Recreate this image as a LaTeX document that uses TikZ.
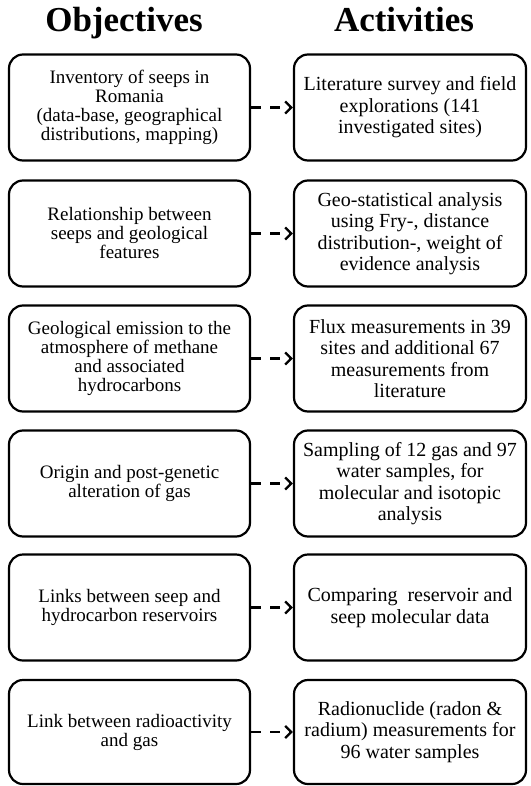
\documentclass[tikz,border=0pt]{standalone}
\usepackage{fontspec}
\setmainfont{Liberation Serif}
\usetikzlibrary{arrows.meta}
\begin{document}
\begin{tikzpicture}[x=1pt,y=-1pt,
  box/.style={draw, line width=2.2pt, rounded corners=14pt, minimum height=106pt,
    align=center, inner sep=0pt},
  lbox/.style={box, minimum width=241pt, font=\fontsize{19}{19}\selectfont},
  rbox/.style={box, minimum width=232pt, font=\fontsize{20}{21.5}\selectfont},
  link/.style={line width=2.4pt, dash pattern=on 10pt off 9pt,
    -{Straight Barb[length=6pt,width=12pt]}},
  heading/.style={font=\fontsize{35}{40}\selectfont\bfseries, anchor=base}]
\useasboundingbox (0,0) rectangle (530,786);
\node[heading] (hobj) at (124,32) {Objectives};
\node[heading] (hact) at (404,32) {Activities};
% row 1
\node[lbox] (l1) at (129.5,107.5) {Inventory of seeps in\\Romania\\(data-base, geographical\\distributions, mapping)};
\node[rbox] (r1) at (410,107.5) {Literature survey and field\\explorations (141\\investigated sites)};
% row 2
\node[lbox] (l2) at (129.5,233.5) {Relationship between\\seeps and geological\\features};
\node[rbox] (r2) at (410,233.5) {Geo-statistical analysis\\using Fry-, distance\\distribution-, weight of\\evidence analysis};
% row 3
\node[lbox] (l3) at (129.5,358.5) {Geological emission to the\\atmosphere of methane\\and associated\\hydrocarbons};
\node[rbox] (r3) at (410,358.5) {Flux measurements in 39\\sites and additional 67\\measurements from\\literature};
% row 4
\node[lbox] (l4) at (129.5,483.5) {Origin and post-genetic\\alteration of gas};
\node[rbox] (r4) at (410,483.5) {Sampling of 12 gas and 97\\water samples, for\\molecular and isotopic\\analysis};
% row 5
\node[lbox] (l5) at (129.5,607.5) {Links between seep and\\hydrocarbon reservoirs};
\node[rbox] (r5) at (410,607.5) {Comparing\ \ reservoir and\\seep molecular data};
% row 6
\node[lbox, minimum height=104pt] (l6) at (129.5,732) {Link between radioactivity\\and gas};
\node[rbox, minimum height=104pt] (r6) at (410,732) {Radionuclide (radon \&\\radium) measurements for\\96 water samples};
\foreach \i in {1,...,6} {
  \draw[link] (l\i.east) -- (r\i.west);
}
\end{tikzpicture}
\end{document}
